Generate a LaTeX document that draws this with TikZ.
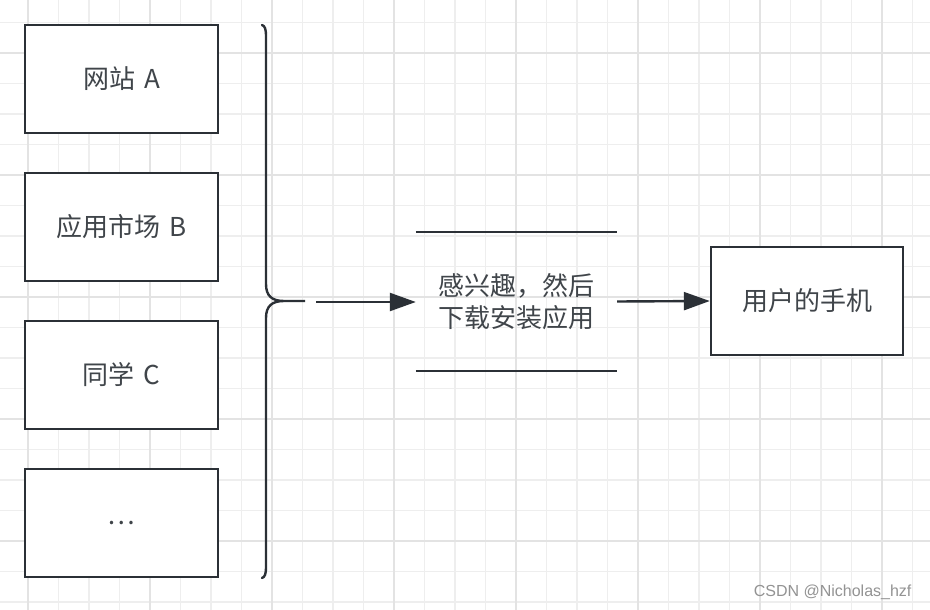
\documentclass[tikz,border=0pt]{standalone}
\usepackage{fontspec}
\setmainfont{Noto Sans CJK SC}
\newfontfamily\markfont{Liberation Sans}
\usetikzlibrary{arrows.meta,positioning}
\definecolor{ink}{HTML}{2B3036}
\definecolor{gridminor}{HTML}{EEEEEE}
\definecolor{gridmajor}{HTML}{E3E3E3}
\newcommand{\gap}{\hspace{0.35em}}
\tikzset{
  srcbox/.style={draw=ink,line width=2.4pt,fill=white,minimum width=193pt,minimum height=108pt,inner sep=0pt,text=ink!90,font=\fontsize{26}{30}\selectfont},
  flow/.style={draw=ink,line width=2.4pt,-{Triangle[length=26pt,width=18pt]}},
}
\begin{document}
\begin{tikzpicture}[x=1pt,y=-1pt]
  \useasboundingbox[fill=white] (0,0) rectangle (930,610);
  % grid paper
  \foreach \k in {0,...,29}
    \draw[gridminor,line width=1.2pt] (28+30.5*\k,0) -- (28+30.5*\k,610);
  \foreach \k in {0,...,19}
    \draw[gridminor,line width=1.2pt] (0,22.5+30.5*\k) -- (930,22.5+30.5*\k);
  \foreach \k in {0,...,7}
    \draw[gridmajor,line width=1.6pt] (28+122*\k,0) -- (28+122*\k,610);
  \foreach \k in {0,...,4}
    \draw[gridmajor,line width=1.6pt] (0,53+122*\k) -- (930,53+122*\k);

  % sources
  \node[srcbox] (siteA) at (121.5,79) {网站\gap A};
  \node[srcbox,below=37.6pt of siteA] (appB) {应用市场\gap B};
  \node[srcbox,below=37.6pt of appB] (mateC) {同学\gap C};
  \node[srcbox,below=37.6pt of mateC] (others) {…};

  % brace
  \coordinate (tip) at (305,301);
  \draw[ink,line width=2.4pt,line cap=round]
    (262,25) .. controls (265,26) and (266,29) .. (266,37) -- (266,284)
    .. controls (266,296) and (272,301) .. (284,301) -- (tip)
    -- (284,301) .. controls (272,301) and (266,306) .. (266,318) -- (266,566)
    .. controls (266,574) and (265,577) .. (262,578);

  % middle step
  \node[minimum width=201pt,minimum height=139pt,inner sep=0pt,align=center,text=ink!90,
        font=\fontsize{26}{32}\selectfont] (hint) at (516.5,301.5) {感兴趣，然后\\下载安装应用};
  \draw[ink,line width=2.4pt] (hint.north west) -- (hint.north east);
  \draw[ink,line width=2.4pt] (hint.south west) -- (hint.south east);

  % target
  \node[srcbox,minimum width=192pt] (phone) at (807,301) {用户的手机};

  \coordinate (tail) at (316,302);
  \draw[flow] (tail) -- (hint.west |- tail);
  \draw[flow] (hint.east) -- (phone.west);

  \node[anchor=east,text=gray!85,font=\markfont\fontsize{16}{19}\selectfont] (mark) at (915,592) {CSDN @Nicholas\_hzf};
\end{tikzpicture}
\end{document}
